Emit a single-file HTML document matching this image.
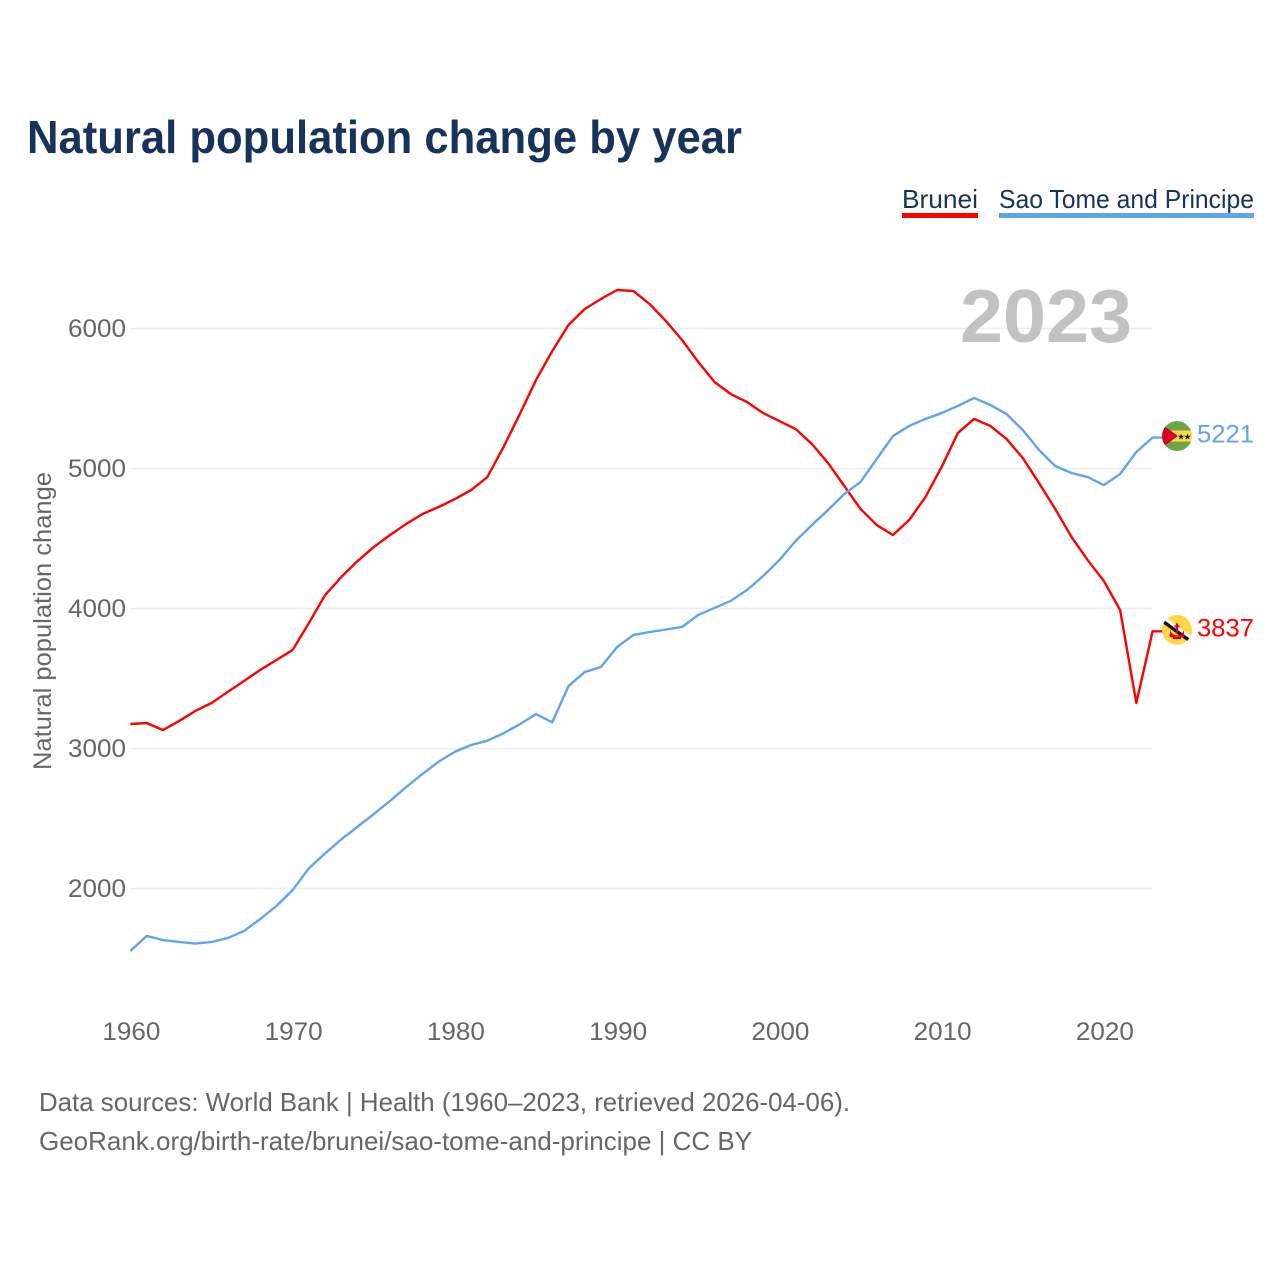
<!DOCTYPE html>
<html lang="en">
<head>
<meta charset="utf-8">
<title>Natural population change by year</title>
<style>
html,body{margin:0;padding:0;background:#fff}
svg{display:block}
text{font-family:"Liberation Sans",sans-serif}
</style>
</head>
<body>
<svg id="chart" xmlns="http://www.w3.org/2000/svg" width="1280" height="1280" viewBox="0 0 1280 1280">
  <defs>
    <clipPath id="flag-clip-stp"><circle cx="0" cy="0" r="15"/></clipPath>
    <clipPath id="flag-clip-brn"><circle cx="0" cy="0" r="15"/></clipPath>
  </defs>
  <text x="27" y="153" font-size="46" font-weight="700" fill="#18335a" textLength="715" lengthAdjust="spacingAndGlyphs">Natural population change by year</text>

  <g>
    <g>
      <text x="902" y="208" font-size="26" fill="#18335a" textLength="76" lengthAdjust="spacingAndGlyphs">Brunei</text>
      <rect x="902" y="213" width="76" height="5" fill="#ff0000"/>
    </g>
    <g>
      <text x="999" y="208" font-size="26" fill="#18335a" textLength="255" lengthAdjust="spacingAndGlyphs">Sao Tome and Principe</text>
      <rect x="999" y="213" width="255" height="5" fill="#5fa5ee"/>
    </g>
  </g>

  <g id="grid"></g>
  <g id="yLabels"></g>
  <g id="xLabels"></g>

  <text transform="translate(51,770) rotate(-90)" font-size="25" fill="#666666" textLength="298" lengthAdjust="spacingAndGlyphs">Natural population change</text>

  <text x="960" y="342" font-size="75" font-weight="700" fill="#c2c2c2" textLength="172" lengthAdjust="spacingAndGlyphs">2023</text>

  <path id="line-brunei" fill="none" stroke="#ff0000" stroke-width="2.4" stroke-linejoin="round"/>
  <path id="line-stp" fill="none" stroke="#5fa5ee" stroke-width="2.4" stroke-linejoin="round"/>

  <g id="flag-stp">
    <g clip-path="url(#flag-clip-stp)">
      <rect x="-15" y="-15" width="30" height="30" fill="#6da544"/>
      <rect x="-15" y="-5.5" width="30" height="11" fill="#ffd84a"/>
      <polygon points="-17,-13 1,0 -17,13" fill="#d80027"/>
      <text x="4" y="3.2" font-size="8.5" text-anchor="middle" fill="#111" style="font-family:'DejaVu Sans',sans-serif">★</text>
      <text x="10.6" y="3.2" font-size="8.5" text-anchor="middle" fill="#111" style="font-family:'DejaVu Sans',sans-serif">★</text>
    </g>
  </g>
  <g id="flag-brn">
    <g clip-path="url(#flag-clip-brn)">
      <rect x="-15" y="-15" width="30" height="30" fill="#ffd84a"/>
      <line x1="-18" y1="-15.2" x2="18" y2="10.8" stroke="#f5f5f5" stroke-width="3.6"/>
      <line x1="-18" y1="-11.3" x2="18" y2="14.7" stroke="#111111" stroke-width="3.4"/>
      <rect x="-1" y="-6.5" width="2" height="10" fill="#d80027"/>
      <rect x="-2.5" y="-4.5" width="5" height="2" fill="#d80027"/>
      <path d="M-6.5,0 q0.5,5 6.5,5.5 q6,-0.5 6.5,-5.5 l1,6 q-1,2 -3,1.5 q-2,-1 -4.5,-1 q-2.5,0 -4.5,1 q-2,0.5 -3,-1.5 z" fill="#d80027"/>
      <rect x="-4" y="7" width="8" height="2.2" fill="#d80027"/>
    </g>
  </g>
  <text id="value-stp" x="1197" font-size="25" fill="#5fa5ee" textLength="57" lengthAdjust="spacingAndGlyphs"></text>
  <text id="value-brn" x="1197" font-size="25" fill="#ff0000" textLength="57" lengthAdjust="spacingAndGlyphs"></text>

  <text x="39" y="1111" font-size="26" fill="#666666" textLength="811" lengthAdjust="spacingAndGlyphs">Data sources: World Bank | Health (1960–2023, retrieved 2026-04-06).</text>
  <text x="39" y="1150" font-size="26" fill="#666666" textLength="713" lengthAdjust="spacingAndGlyphs">GeoRank.org/birth-rate/brunei/sao-tome-and-principe | CC BY</text>
</svg>
<script>
const startYear = 1960;
const bruneiValues = [3175,3182,3132,3196,3268,3325,3404,3482,3561,3632,3704,3896,4096,4225,4339,4439,4525,4604,4675,4725,4782,4846,4939,5154,5389,5632,5839,6025,6139,6211,6275,6268,6175,6054,5918,5761,5618,5532,5475,5396,5339,5282,5175,5039,4875,4711,4596,4525,4632,4796,5011,5254,5354,5304,5211,5075,4896,4711,4511,4346,4196,3989,3325,3837];
const saoTomeValues = [1554,1661,1632,1618,1607,1618,1646,1696,1782,1875,1989,2144,2251,2351,2441,2532,2625,2725,2818,2906,2977,3025,3056,3109,3173,3246,3187,3446,3546,3582,3725,3811,3832,3850,3868,3954,4004,4054,4132,4232,4346,4482,4596,4704,4818,4904,5068,5232,5304,5354,5396,5447,5504,5454,5389,5275,5132,5018,4968,4939,4882,4961,5118,5221];
const yTicks = [2000,3000,4000,5000,6000];
const xTicks = [1960,1970,1980,1990,2000,2010,2020];

const NS = 'http://www.w3.org/2000/svg';
function xScale(year){ return 130.4 + (year - 1960) * 16.225; }
function yScale(v){ return 888.5 - (v - 2000) * 0.14; }

const gridG = document.getElementById('grid');
const yG = document.getElementById('yLabels');
const xG = document.getElementById('xLabels');

yTicks.forEach(function(t){
  const l = document.createElementNS(NS,'line');
  
  
  l.setAttribute('x1', 131);
  l.setAttribute('x2', 1152);
  l.setAttribute('y1', yScale(t));
  l.setAttribute('y2', yScale(t));
  l.setAttribute('stroke', '#ececec');
  l.setAttribute('stroke-width', '1.6');
  gridG.appendChild(l);
  const tx = document.createElementNS(NS,'text');
  
  
  tx.setAttribute('x', 68);
  tx.setAttribute('y', yScale(t) + 8.5);
  tx.setAttribute('font-size', '25');
  tx.setAttribute('fill', '#666666');
  tx.setAttribute('textLength', '58');
  tx.setAttribute('lengthAdjust', 'spacingAndGlyphs');
  tx.textContent = String(t);
  yG.appendChild(tx);
});

xTicks.forEach(function(t){
  const tx = document.createElementNS(NS,'text');
  
  
  tx.setAttribute('x', xScale(t) - 28);
  tx.setAttribute('y', 1040);
  tx.setAttribute('font-size', '25');
  tx.setAttribute('fill', '#666666');
  tx.setAttribute('textLength', '58');
  tx.setAttribute('lengthAdjust', 'spacingAndGlyphs');
  tx.textContent = String(t);
  xG.appendChild(tx);
});

function linePath(values){
  let d = values.map(function(v,i){
    return (i ? 'L' : 'M') + xScale(startYear + i).toFixed(2) + ',' + yScale(v).toFixed(2);
  }).join(' ');
  const lastY = yScale(values[values.length - 1]);
  d += ' L' + (xScale(startYear + values.length - 1) + 10).toFixed(2) + ',' + lastY.toFixed(2);
  return d;
}
document.getElementById('line-brunei').setAttribute('d', linePath(bruneiValues));
document.getElementById('line-stp').setAttribute('d', linePath(saoTomeValues));

const lastStp = saoTomeValues[saoTomeValues.length - 1];
const lastBrn = bruneiValues[bruneiValues.length - 1];
document.getElementById('flag-stp').setAttribute('transform', 'translate(1177,' + (yScale(lastStp) - 1.5) + ')');
document.getElementById('flag-brn').setAttribute('transform', 'translate(1177,' + (yScale(lastBrn) - 1.5) + ')');
const vs = document.getElementById('value-stp');
vs.setAttribute('y', yScale(lastStp) + 5);
vs.textContent = String(lastStp);
const vb = document.getElementById('value-brn');
vb.setAttribute('y', yScale(lastBrn) + 5);
vb.textContent = String(lastBrn);
</script>
</body>
</html>
